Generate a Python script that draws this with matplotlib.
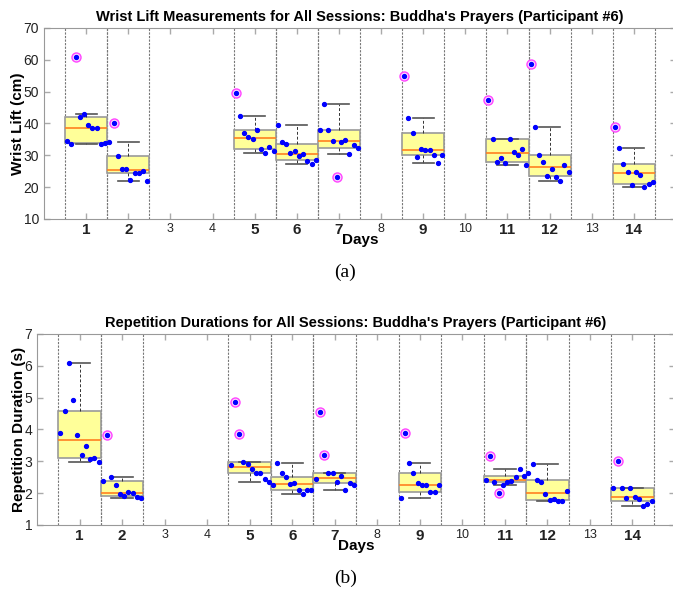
import numpy as np
import matplotlib
matplotlib.use('Agg')
import matplotlib.pyplot as plt

plt.rcParams['font.family'] = ['Liberation Sans', 'DejaVu Sans']

all_days = list(range(1, 15))
session_days = [1, 2, 5, 6, 7, 9, 11, 12, 14]

# values in recording order, 10 repetitions per session
wrist_lift = [
    [34.4, 33.5, 60.9, 42.0, 42.9, 39.4, 38.7, 38.6, 33.5, 33.9],
    [34.3, 40.0, 29.8, 25.8, 25.8, 22.2, 24.5, 24.5, 25.0, 21.9],
    [49.7, 42.4, 37.1, 35.8, 35.2, 37.9, 32.1, 30.6, 32.5, 31.5],
    [39.4, 34.2, 33.4, 30.6, 31.3, 29.8, 30.5, 28.2, 27.4, 28.6],
    [38.0, 46.1, 38.0, 34.6, 23.3, 34.1, 34.7, 30.4, 33.1, 32.3],
    [55.0, 41.8, 37.0, 29.6, 32.1, 31.7, 31.6, 30.1, 27.5, 30.2],
    [47.4, 35.2, 27.9, 29.3, 27.6, 35.0, 31.0, 30.2, 32.1, 26.9],
    [58.7, 39.0, 30.1, 27.9, 23.6, 25.8, 23.1, 22.0, 27.1, 24.8],
    [38.8, 32.3, 27.4, 24.9, 20.6, 24.9, 23.8, 19.9, 21.1, 21.5],
]

rep_duration = [
    [3.89, 4.57, 6.08, 4.93, 3.83, 3.20, 3.49, 3.06, 3.10, 2.98],
    [2.39, 3.82, 2.50, 2.25, 1.98, 1.92, 2.04, 2.00, 1.88, 1.84],
    [2.88, 4.87, 3.85, 2.97, 2.92, 2.76, 2.62, 2.63, 2.45, 2.34],
    [2.25, 2.96, 2.64, 2.52, 2.30, 2.33, 2.11, 1.96, 2.09, 2.10],
    [2.44, 4.56, 3.20, 2.63, 2.63, 2.35, 2.53, 2.11, 2.31, 2.27],
    [1.86, 3.88, 2.96, 2.63, 2.32, 2.24, 2.24, 2.05, 2.05, 2.24],
    [2.42, 3.17, 2.36, 2.01, 2.24, 2.34, 2.39, 2.50, 2.77, 2.54],
    [2.63, 2.93, 2.42, 2.34, 1.97, 1.79, 1.82, 1.76, 1.76, 2.07],
    [2.16, 3.00, 2.16, 1.86, 2.16, 1.89, 1.82, 1.60, 1.66, 1.75],
]


def prctile(vals, p):
    # matlab style percentile
    s = np.sort(vals)
    n = len(s)
    pos = 100.0 * (np.arange(1, n + 1) - 0.5) / n
    return np.interp(p, pos, s)


def box_stats(vals):
    v = np.asarray(vals)
    q1, med, q3 = prctile(v, 25), prctile(v, 50), prctile(v, 75)
    iqr = q3 - q1
    hi = v[v <= q3 + 1.5 * iqr].max()
    lo = v[v >= q1 - 1.5 * iqr].min()
    return {'med': med, 'q1': q1, 'q3': q3, 'whislo': lo, 'whishi': hi, 'fliers': []}


def draw_panel(ax, data, ylim, yticks, title, ylabel):
    for d in session_days:
        for xv in (d - 0.5, d + 0.5):
            ax.axvline(xv, color='#777777', lw=0.8, ls=(0, (2, 1.2)), zorder=1)

    stats = [box_stats(v) for v in data]
    ax.bxp(stats, positions=session_days, widths=1.0, capwidths=0.5,
           showfliers=False, patch_artist=True,
           boxprops=dict(facecolor='#ffff99', edgecolor='#9a9a9a', lw=1.2),
           medianprops=dict(color='#ff8020', lw=1.2),
           whiskerprops=dict(color='#333333', lw=0.7, ls=(0, (3, 2))),
           capprops=dict(color='#555555', lw=1.2), zorder=2)

    for d, vals, st in zip(session_days, data, stats):
        vals = np.asarray(vals)
        xs = d - 0.45 + 0.1 * np.arange(len(vals))
        out = (vals > st['whishi']) | (vals < st['whislo'])
        ax.plot(xs[out], vals[out], 'o', ms=6.5, mfc='#ffd6ff', mec='#ff44ff', mew=1.0, zorder=3)
        ax.plot(xs, vals, 'o', ms=2.8, color='#0000ff', mec='#0000ff', zorder=4)

    ax.set_xlim(0, 15)
    ax.set_ylim(*ylim)
    ax.set_yticks(yticks)
    ax.set_xticks(all_days)
    ax.set_xticklabels([str(d) for d in all_days])
    for lab, d in zip(ax.get_xticklabels(), all_days):
        if d in session_days:
            lab.set_fontweight('bold')
            lab.set_fontsize(11)
        else:
            lab.set_fontsize(9)
    ax.tick_params(direction='in', top=True, right=True, length=4, color='#aaaaaa',
                   labelcolor='#222222', width=1)
    ax.tick_params(axis='y', labelsize=10)
    ax.tick_params(axis='x', pad=3)
    for sp in ax.spines.values():
        sp.set_color('#999999')
    ax.set_title(title, fontsize=10.5, fontweight='bold', pad=5)
    ax.set_xlabel('Days', fontsize=11, fontweight='bold', labelpad=-3)
    ax.set_ylabel(ylabel, fontsize=11, fontweight='bold', labelpad=-1)


fig = plt.figure(figsize=(6.73, 5.89), dpi=100)
ax1 = fig.add_axes([0.0654, 0.6282, 0.939, 0.3243])
ax2 = fig.add_axes([0.055, 0.1087, 0.948, 0.3243])

draw_panel(ax1, wrist_lift, (10, 70), range(10, 71, 10),
           "Wrist Lift Measurements for All Sessions: Buddha's Prayers (Participant #6)",
           'Wrist Lift (cm)')
draw_panel(ax2, rep_duration, (1, 7), range(1, 8),
           "Repetition Durations for All Sessions: Buddha's Prayers (Participant #6)",
           'Repetition Duration (s)')

fig.text(0.513, 1 - 272 / 589, '(a)', family='Liberation Serif', fontsize=14, ha='center', va='center')
fig.text(0.513, 1 - 578 / 589, '(b)', family='Liberation Serif', fontsize=14, ha='center', va='center')

fig.savefig('out.png', dpi=100)
